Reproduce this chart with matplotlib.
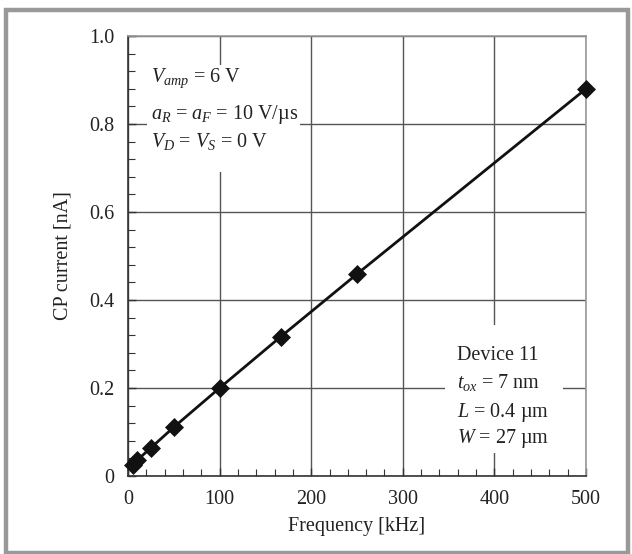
import matplotlib
matplotlib.use('Agg')
import matplotlib.pyplot as plt
from matplotlib.patches import Rectangle
from matplotlib.ticker import MultipleLocator

# data
freq_khz = [5, 10, 25, 50, 100, 167, 250, 500]
cp_current = [0.024, 0.036, 0.064, 0.111, 0.200, 0.317, 0.459, 0.880]

cond_lines = [r'$V_{amp}$ = 6 V', r'$a_R$ = $a_F$ = 10 V/µs', r'$V_D$ = $V_S$ = 0 V']
device_lines = ['Device 11', r'$t_{ox}$ = 7 nm', r'$L$ = 0.4 µm', r'$W$ = 27 µm']

plt.rcParams['font.family'] = 'Liberation Serif'
plt.rcParams['mathtext.fontset'] = 'custom'
plt.rcParams['mathtext.rm'] = 'Liberation Serif'
plt.rcParams['mathtext.it'] = 'Liberation Serif:italic'
plt.rcParams['font.size'] = 14.5

fig = plt.figure(figsize=(6.32, 5.54), dpi=100)
ax = fig.add_axes([128/632, 1-476/554, 458/632, 440/554])

# grey outer frame
fig.patches.append(Rectangle((5.5/632, 1.5/554), 622/632, 543/554, transform=fig.transFigure,
                             fill=False, edgecolor='#999999', lw=3.2))

ax.plot(freq_khz, cp_current, '-', color='#111111', lw=2.0, zorder=4)
ax.plot(freq_khz, cp_current, 'D', color='#111111', ms=9, mew=0.5, zorder=5, clip_on=False)

ax.set_xlim(0, 500)
ax.set_ylim(0, 1.0)
ax.xaxis.set_major_locator(MultipleLocator(100))
ax.xaxis.set_minor_locator(MultipleLocator(20))
ax.yaxis.set_major_locator(MultipleLocator(0.2))
ax.yaxis.set_minor_locator(MultipleLocator(0.04))
ax.set_yticks([0, 0.2, 0.4, 0.6, 0.8, 1.0])
ax.set_yticklabels(['0', '0.2', '0.4', '0.6', '0.8', '1.0'])

ax.grid(True, which='major', color='#555555', lw=1.0, zorder=1)
ax.set_axisbelow(True)
ax.tick_params(which='both', direction='in', color='#333333', labelcolor='#222222', pad=10)
ax.tick_params(which='major', length=6, width=1)
ax.tick_params(which='minor', length=5, width=0.8)

for s in ['left', 'bottom']:
    ax.spines[s].set_color('#333333')
    ax.spines[s].set_linewidth(1.2)
for s in ['top', 'right']:
    ax.spines[s].set_color('#999999')
    ax.spines[s].set_linewidth(1.2)

ax.set_xlabel('Frequency [kHz]', color='#222222', labelpad=6)
ax.set_ylabel('CP current [nA]', color='#222222', labelpad=12)

# white boxes hiding the grid behind the annotations
ax.add_patch(Rectangle((20.7, 0.691), 167, 0.243, facecolor='white', edgecolor='none', zorder=2))
ax.add_patch(Rectangle((346, 0.052), 129, 0.291, facecolor='white', edgecolor='none', zorder=2))

for txt, yb in zip(cond_lines, [0.895, 0.811, 0.748]):
    ax.text(25, yb, txt, va='baseline', ha='left', color='#222222', zorder=3)
for txt, yb in zip(device_lines, [0.264, 0.200, 0.135, 0.075]):
    ax.text(359, yb, txt, va='baseline', ha='left', color='#222222', zorder=3)

fig.savefig('out.png', dpi=100)
